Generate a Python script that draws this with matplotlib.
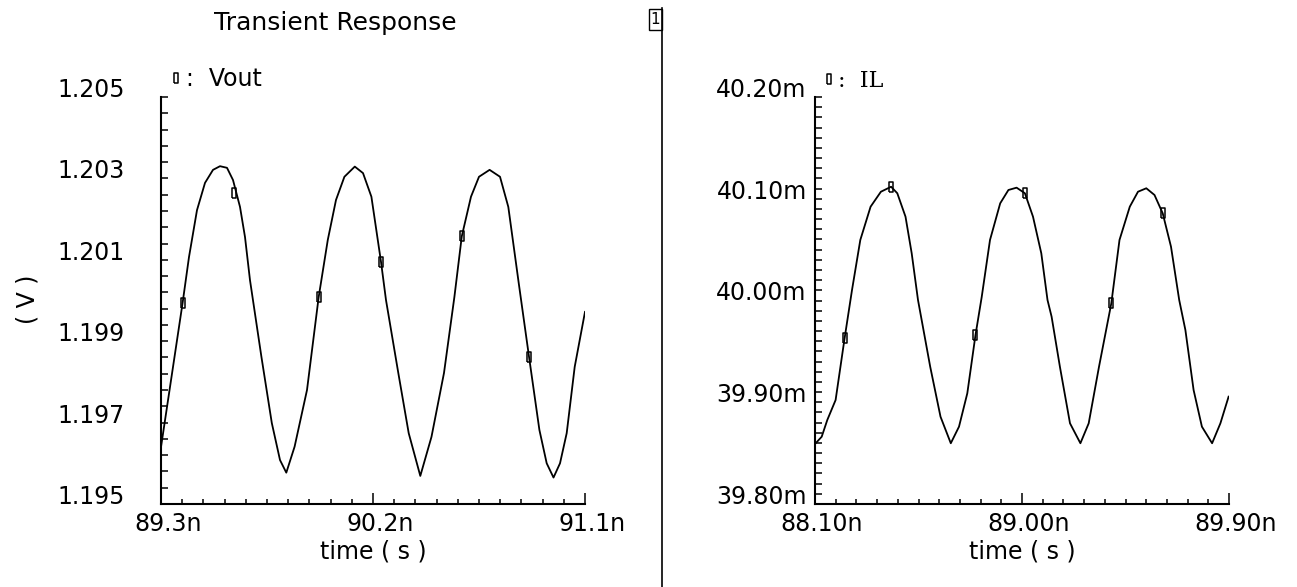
import numpy as np
import matplotlib.pyplot as plt
import matplotlib.transforms as mtransforms
from matplotlib.lines import Line2D
from matplotlib.patches import Rectangle

# Vout, time in ns, value in V
vout_t = [89.3000, 89.3917, 89.4189, 89.4528, 89.4868, 89.5208, 89.5505, 89.5802,
          89.6057, 89.6354, 89.6566, 89.6778, 89.7262, 89.7704, 89.8052, 89.8319,
          89.8672, 89.9198, 89.9695, 90.0081, 90.0429, 90.0786, 90.1227, 90.1576,
          90.1932, 90.2340, 90.2552, 90.3074, 90.3516, 90.4008, 90.4483, 90.5014,
          90.5456, 90.5770, 90.6160, 90.6500, 90.6950, 90.7392, 90.7744, 90.8186,
          90.8623, 90.9064, 90.9374, 90.9663, 90.9939, 91.0223, 91.0563, 91.1000]
vout_v = [1.19640, 1.19994, 1.20107, 1.20222, 1.20289, 1.20321, 1.20330, 1.20326,
          1.20296, 1.20230, 1.20156, 1.20050, 1.19862, 1.19699, 1.19608, 1.19577,
          1.19641, 1.19780, 1.20009, 1.20149, 1.20247, 1.20304, 1.20329, 1.20313,
          1.20255, 1.20095, 1.20001, 1.19822, 1.19674, 1.19569, 1.19665, 1.19822,
          1.20009, 1.20158, 1.20255, 1.20304, 1.20321, 1.20304, 1.20230, 1.20043,
          1.19862, 1.19682, 1.19600, 1.19565, 1.19600, 1.19674, 1.19837, 1.19972]
vout_mark_t = [89.3917, 89.6116, 89.9695, 90.2340, 90.5770, 90.8623]
vout_mark_v = [1.19994, 1.20264, 1.20009, 1.20095, 1.20158, 1.19862]

# IL, time in ns, value in mA
il_t = [88.1000, 88.1291, 88.1535, 88.1896, 88.2287, 88.2609, 88.2970, 88.3417,
        88.3865, 88.4309, 88.4578, 88.4935, 88.5204, 88.5478, 88.6009, 88.6457,
        88.6904, 88.7261, 88.7622, 88.7978, 88.8248, 88.8609, 88.9052, 88.9409,
        88.9765, 89.0126, 89.0478, 89.0839, 89.1109, 89.1287, 89.1648, 89.2087,
        89.2539, 89.2900, 89.3348, 89.3883, 89.4239, 89.4687, 89.5043, 89.5404,
        89.5761, 89.6118, 89.6478, 89.6835, 89.7104, 89.7461, 89.7822, 89.8265,
        89.8626, 89.8983]
il_v = [39.8590, 39.8661, 39.8826, 39.9022, 39.9629, 40.0103, 40.0595, 40.0922,
        40.1069, 40.1118, 40.1054, 40.0824, 40.0464, 40.0005, 39.9349, 39.8858,
        39.8597, 39.8760, 39.9088, 39.9661, 40.0034, 40.0595, 40.0955, 40.1086,
        40.1109, 40.1054, 40.0824, 40.0464, 40.0005, 39.9841, 39.9349, 39.8793,
        39.8597, 39.8793, 39.9349, 39.9972, 40.0595, 40.0922, 40.1069, 40.1103,
        40.1037, 40.0857, 40.0529, 40.0005, 39.9710, 39.9120, 39.8760, 39.8597,
        39.8793, 39.9055]
il_mark_t = [88.2287, 88.4309, 88.7978, 89.0126, 89.3883, 89.6118]
il_mark_v = [39.9629, 40.1118, 39.9661, 40.1054, 39.9972, 40.0857]

vout_xticks = [89.3, 90.2, 91.1]
vout_xlabels = ["89.3n", "90.2n", "91.1n"]
vout_yticks = [1.195, 1.197, 1.199, 1.201, 1.203, 1.205]
vout_ylabels = ["1.195", "1.197", "1.199", "1.201", "1.203", "1.205"]

il_xticks = [88.1, 89.0, 89.9]
il_xlabels = ["88.10n", "89.00n", "89.90n"]
il_yticks = [39.80, 39.90, 40.00, 40.10, 40.20]
il_ylabels = ["39.80m", "39.90m", "40.00m", "40.10m", "40.20m"]

W, H = 1297, 587
FS = 17
box = [(-0.45, -1), (0.45, -1), (0.45, 1), (-0.45, 1), (-0.45, -1)]

fig = plt.figure(figsize=(W / 100, H / 100), dpi=100)
ax1 = fig.add_axes([161 / W, 83 / H, 424 / W, 407 / H])
ax2 = fig.add_axes([815 / W, 83 / H, 414 / W, 407 / H])


def setup(ax, xt, xl, yt, yl, ypad, ny_minor):
    for s in ["top", "right"]:
        ax.spines[s].set_visible(False)
    for s in ["left", "bottom"]:
        ax.spines[s].set_linewidth(1.5)
    ax.set_xlim(xt[0], xt[-1])
    ax.set_ylim(yt[0], yt[-1])
    ax.set_xticks(xt, xl)
    ax.set_yticks(yt, yl)
    ax.set_xticks(np.linspace(xt[0], xt[-1], 21), minor=True)
    ax.set_yticks(np.linspace(yt[0], yt[-1], ny_minor + 1), minor=True)
    ax.tick_params(which="both", direction="in", width=1.1, labelsize=FS)
    ax.tick_params(axis="x", which="major", length=8, pad=6)
    ax.tick_params(axis="x", which="minor", length=3.6)
    ax.tick_params(axis="y", which="both", length=5, pad=ypad)
    shift = mtransforms.ScaledTranslation(7 / 100, 0, fig.dpi_scale_trans)
    for lab in ax.get_xticklabels():
        lab.set_transform(lab.get_transform() + shift)
    for lab in ax.get_yticklabels():
        lab.set_verticalalignment("baseline")
    ax.set_xlabel("time ( s )", fontsize=FS)
    ax.xaxis.set_label_coords(0.5, -0.088)


setup(ax1, vout_xticks, vout_xlabels, vout_yticks, vout_ylabels, 26, 25)
setup(ax2, il_xticks, il_xlabels, il_yticks, il_ylabels, 6, 40)

ax1.plot(vout_t, vout_v, color="black", lw=1.3)
ax1.plot(vout_mark_t, vout_mark_v, ls="none", marker=box, ms=7.5,
         mfc="none", mec="black", mew=1.1)
ax2.plot(il_t, il_v, color="black", lw=1.3)
ax2.plot(il_mark_t, il_mark_v, ls="none", marker=box, ms=7.5,
         mfc="none", mec="black", mew=1.1)

# legends "[]: Vout" and "[]: IL" above the axes
key = Line2D([], [], ls="none", marker=box, ms=6.5, mfc="none", mec="black", mew=1.1)
ax1.legend([key], [":  Vout"], loc="center left", bbox_to_anchor=(0.019, 1.044),
           frameon=False, borderpad=0, borderaxespad=0, handlelength=0.6,
           handletextpad=0.1, numpoints=1, fontsize=FS)
ax2.legend([key], [":  IL"], loc="center left", bbox_to_anchor=(0.0176, 1.039),
           frameon=False, borderpad=0, borderaxespad=0, handlelength=0.6,
           handletextpad=0.1, numpoints=1, prop={"family": "DejaVu Serif", "size": 16})

fig.text(335 / W, 1 - 23 / H, "Transient Response", fontsize=18,
         ha="center", va="center")
fig.text(28 / W, 1 - 299 / H, "( V )", fontsize=FS, rotation=90,
         ha="center", va="center")

# divider between the two strips and the strip number box
fig.add_artist(Line2D([661.7 / W, 661.7 / W], [0, 1 - 8 / H], color="black", lw=1.2))
fig.add_artist(Rectangle((649.3 / W, 1 - 30 / H), 12.4 / W, 20.7 / H,
                         fill=False, ec="black", lw=1.0))
fig.text(655.5 / W, 1 - 19.5 / H, "1", fontsize=11, ha="center", va="center")

fig.savefig("out.png", dpi=100)
